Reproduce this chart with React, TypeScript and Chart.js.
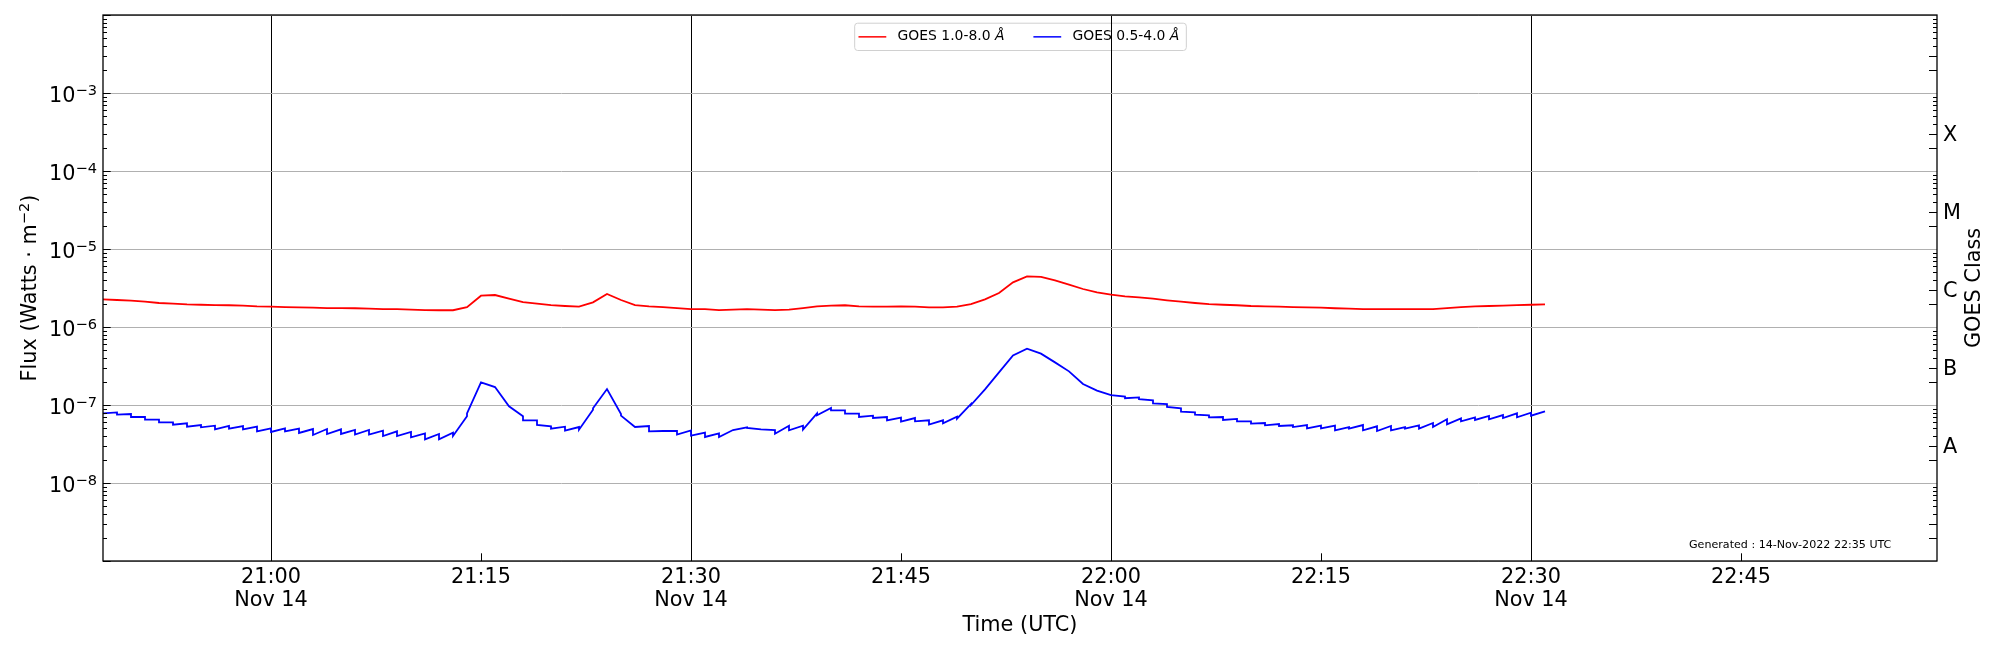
import React, { useEffect, useRef } from "react";
import { Chart, registerables } from "chart.js";

Chart.register(...registerables);

// one sample per minute, minutes counted from 21:00 UTC (Nov 14 2022)
const firstMinute = -12;

// GOES 1.0-8.0 Å flux (W m^-2), 20:48 .. 22:31
const goesLong = [
  2.26e-6, 2.22e-6, 2.18e-6, 2.11e-6, 2.03e-6, 1.99e-6, 1.95e-6, 1.93e-6, 1.91e-6, 1.9e-6,
  1.88e-6, 1.84e-6, 1.82e-6, 1.8e-6, 1.79e-6, 1.77e-6, 1.75e-6, 1.75e-6, 1.74e-6, 1.72e-6,
  1.7e-6, 1.69e-6, 1.67e-6, 1.65e-6, 1.64e-6, 1.64e-6, 1.8e-6, 2.52e-6, 2.57e-6, 2.31e-6,
  2.09e-6, 1.99e-6, 1.91e-6, 1.86e-6, 1.82e-6, 2.07e-6, 2.65e-6, 2.22e-6, 1.91e-6, 1.84e-6,
  1.8e-6, 1.75e-6, 1.7e-6, 1.69e-6, 1.65e-6, 1.67e-6, 1.69e-6, 1.67e-6, 1.65e-6, 1.67e-6,
  1.75e-6, 1.84e-6, 1.88e-6, 1.9e-6, 1.84e-6, 1.82e-6, 1.82e-6, 1.84e-6, 1.82e-6, 1.79e-6,
  1.79e-6, 1.82e-6, 1.97e-6, 2.26e-6, 2.73e-6, 3.74e-6, 4.46e-6, 4.38e-6, 3.97e-6, 3.49e-6,
  3.07e-6, 2.78e-6, 2.6e-6, 2.47e-6, 2.4e-6, 2.31e-6, 2.2e-6, 2.11e-6, 2.03e-6, 1.97e-6,
  1.93e-6, 1.9e-6, 1.86e-6, 1.84e-6, 1.82e-6, 1.8e-6, 1.79e-6, 1.77e-6, 1.74e-6, 1.72e-6,
  1.7e-6, 1.69e-6, 1.69e-6, 1.69e-6, 1.7e-6, 1.7e-6, 1.75e-6, 1.8e-6, 1.84e-6, 1.86e-6,
  1.88e-6, 1.91e-6, 1.93e-6, 1.95e-6,
];

// GOES 0.5-4.0 Å flux (W m^-2): value at the start and at the end of each minute
const goesShortStart = [
  7.82e-8, 7.52e-8, 7.02e-8, 6.49e-8, 6.0e-8, 5.6e-8, 5.27e-8, 5.17e-8, 4.88e-8, 4.97e-8,
  4.88e-8, 4.6e-8, 4.51e-8, 4.6e-8, 4.38e-8, 4.13e-8, 4.25e-8, 4.25e-8, 4.17e-8, 4.17e-8,
  4.0e-8, 4.0e-8, 3.85e-8, 3.63e-8, 3.63e-8, 4.0e-8, 7.82e-8, 1.95e-7, 1.7e-7, 9.61e-8,
  6.36e-8, 5.54e-8, 4.97e-8, 4.69e-8, 4.83e-8, 9.06e-8, 1.6e-7, 7.3e-8, 5.22e-8, 4.6e-8,
  4.64e-8, 4.17e-8, 4.04e-8, 3.89e-8, 3.89e-8, 4.78e-8, 5.07e-8, 4.88e-8, 4.29e-8, 4.73e-8,
  4.83e-8, 7.37e-8, 8.54e-8, 7.74e-8, 7.02e-8, 6.81e-8, 6.36e-8, 6.11e-8, 6.17e-8, 5.6e-8,
  5.82e-8, 6.68e-8, 1.0e-7, 1.59e-7, 2.62e-7, 4.33e-7, 5.28e-7, 4.55e-7, 3.52e-7, 2.7e-7,
  1.86e-7, 1.53e-7, 1.34e-7, 1.22e-7, 1.19e-7, 1.05e-7, 9.43e-8, 8.21e-8, 7.52e-8, 6.95e-8,
  6.43e-8, 6.17e-8, 5.77e-8, 5.49e-8, 5.38e-8, 5.22e-8, 5.02e-8, 5.02e-8, 4.73e-8, 4.97e-8,
  4.73e-8, 4.64e-8, 4.73e-8, 4.97e-8, 4.97e-8, 5.22e-8, 5.66e-8, 6.17e-8, 6.43e-8, 6.55e-8,
  6.81e-8, 6.95e-8, 7.3e-8,
];
const goesShortEnd = [
  8.05e-8, 7.67e-8, 7.02e-8, 6.49e-8, 6.0e-8, 5.82e-8, 5.54e-8, 5.43e-8, 5.38e-8, 5.38e-8,
  5.27e-8, 5.02e-8, 5.02e-8, 4.97e-8, 4.92e-8, 4.92e-8, 4.88e-8, 4.78e-8, 4.78e-8, 4.69e-8,
  4.6e-8, 4.51e-8, 4.33e-8, 4.25e-8, 4.42e-8, 7.16e-8, 1.95e-7, 1.7e-7, 9.61e-8, 7.16e-8,
  6.36e-8, 5.33e-8, 5.27e-8, 5.22e-8, 8.71e-8, 1.6e-7, 7.67e-8, 5.22e-8, 5.38e-8, 4.64e-8,
  4.64e-8, 4.73e-8, 4.42e-8, 4.33e-8, 4.78e-8, 5.17e-8, 4.88e-8, 4.78e-8, 5.43e-8, 5.43e-8,
  7.82e-8, 9.15e-8, 8.54e-8, 7.74e-8, 7.3e-8, 7.02e-8, 6.88e-8, 6.81e-8, 6.36e-8, 6.36e-8,
  7.09e-8, 1.03e-7, 1.59e-7, 2.62e-7, 4.33e-7, 5.28e-7, 4.55e-7, 3.52e-7, 2.7e-7, 1.86e-7,
  1.53e-7, 1.34e-7, 1.28e-7, 1.25e-7, 1.15e-7, 1.03e-7, 9.06e-8, 8.05e-8, 7.37e-8, 7.02e-8,
  6.62e-8, 6.17e-8, 5.88e-8, 5.71e-8, 5.49e-8, 5.54e-8, 5.43e-8, 5.43e-8, 5.22e-8, 5.54e-8,
  5.33e-8, 5.38e-8, 5.22e-8, 5.49e-8, 5.88e-8, 6.55e-8, 6.75e-8, 6.95e-8, 7.23e-8, 7.44e-8,
  7.82e-8, 7.97e-8, 8.3e-8,
];

const xTicks = [0, 15, 30, 45, 60, 75, 90, 105];
const xTickTimes = ["21:00", "21:15", "21:30", "21:45", "22:00", "22:15", "22:30", "22:45"];
const xTickDates = ["Nov 14", "", "Nov 14", "", "Nov 14", "", "Nov 14", ""];
const yDecades = [1e-9, 1e-8, 1e-7, 1e-6, 1e-5, 1e-4, 1e-3, 1e-2];
const yLabelExponents = [-8, -7, -6, -5, -4, -3];
const goesClasses = ["A", "B", "C", "M", "X"];
const goesClassLevels = [3e-8, 3e-7, 3e-6, 3e-5, 3e-4];
const seriesNames = ["GOES 1.0-8.0 ", "GOES 0.5-4.0 "];
const seriesColors = ["#ff0000", "#0000ff"];

const FONT = '"DejaVu Sans", sans-serif';
const BIG = 20.8;
const SUP = 14.6;

const longPoints = goesLong.map((v, i) => ({ x: firstMinute + i, y: v }));
const shortPoints = goesShortStart.flatMap((v, i) => [
  { x: firstMinute + i, y: v },
  { x: firstMinute + i + 1, y: goesShortEnd[i] },
]);

const legendPlugin = {
  id: "mplLegend",
  beforeDraw(chart: Chart) {
    const { ctx, chartArea } = chart;
    ctx.save();
    const fs = 13.9;
    const widths = seriesNames.map((s) => {
      ctx.font = `${fs}px ${FONT}`;
      const a = ctx.measureText(s).width;
      ctx.font = `italic ${fs}px ${FONT}`;
      return a + ctx.measureText("Å").width;
    });
    const total = 4.3 + 27.8 + 11.3 + widths[0] + 29 + 27.8 + 11.3 + widths[1] + 6.5;
    const x0 = (chartArea.left + chartArea.right) / 2 - total / 2;
    const y0 = chartArea.top + 7.7;
    const h = 27.3;
    ctx.beginPath();
    ctx.roundRect(x0 + 0.5, y0 + 0.5, total, h, 3);
    ctx.fillStyle = "rgba(255,255,255,0.8)";
    ctx.fill();
    ctx.strokeStyle = "#d0d0d0";
    ctx.lineWidth = 1;
    ctx.stroke();
    const cy = y0 + h / 2 + 0.5;
    let x = x0 + 4.3;
    seriesNames.forEach((s, i) => {
      ctx.strokeStyle = seriesColors[i];
      ctx.lineWidth = 1.5;
      ctx.beginPath();
      ctx.moveTo(x, cy);
      ctx.lineTo(x + 27.8, cy);
      ctx.stroke();
      x += 27.8 + 11.3;
      ctx.fillStyle = "#000";
      ctx.textBaseline = "middle";
      ctx.textAlign = "left";
      ctx.font = `${fs}px ${FONT}`;
      ctx.fillText(s, x, cy);
      const w = ctx.measureText(s).width;
      ctx.font = `italic ${fs}px ${FONT}`;
      ctx.fillText("Å", x + w, cy);
      x += widths[i] + 29;
    });
    ctx.restore();
  },
};

const decorPlugin = {
  id: "mplDecor",
  afterDraw(chart: Chart) {
    const { ctx, chartArea } = chart;
    const xs = chart.scales.x;
    const ys = chart.scales.y;
    const { left, right, top, bottom } = chartArea;
    ctx.save();
    ctx.strokeStyle = "#000";
    ctx.lineWidth = 1;

    // inward ticks
    ctx.beginPath();
    xTicks.forEach((v) => {
      const px = Math.round(xs.getPixelForValue(v)) + 0.5;
      ctx.moveTo(px, bottom);
      ctx.lineTo(px, bottom - 7.7);
    });
    yDecades.forEach((d, di) => {
      const py = Math.round(ys.getPixelForValue(d)) + 0.5;
      ctx.moveTo(left, py);
      ctx.lineTo(left + 7.7, py);
      if (di === yDecades.length - 1) return;
      for (let k = 2; k <= 9; k++) {
        const my = Math.round(ys.getPixelForValue(k * d)) + 0.5;
        ctx.moveTo(left, my);
        ctx.lineTo(left + 4, my);
        ctx.moveTo(right, my);
        ctx.lineTo(right - (k <= 3 ? 8 : 4), my);
      }
    });
    ctx.stroke();

    // frame
    ctx.lineWidth = 1.3;
    ctx.strokeRect(left, top, right - left, bottom - top);

    ctx.fillStyle = "#000";
    // y tick labels 10^n
    yLabelExponents.forEach((e) => {
      const py = ys.getPixelForValue(Math.pow(10, e));
      const sup = "\u2212" + Math.abs(e);
      ctx.font = `${BIG}px ${FONT}`;
      const wb = ctx.measureText("10").width;
      ctx.font = `${SUP}px ${FONT}`;
      const ws = ctx.measureText(sup).width;
      const x0 = left - 6 - wb - ws;
      ctx.textAlign = "left";
      ctx.textBaseline = "alphabetic";
      ctx.font = `${BIG}px ${FONT}`;
      ctx.fillText("10", x0, py + 8.6);
      ctx.font = `${SUP}px ${FONT}`;
      ctx.fillText(sup, x0 + wb, py + 1.6);
    });

    // GOES class letters, cap height centred on the level
    ctx.font = `${BIG}px ${FONT}`;
    ctx.textBaseline = "alphabetic";
    goesClasses.forEach((c, i) => {
      ctx.fillText(c, right + 6, ys.getPixelForValue(goesClassLevels[i]) + 7.6);
    });

    // x tick labels
    ctx.textAlign = "center";
    xTicks.forEach((v, i) => {
      const px = xs.getPixelForValue(v);
      ctx.fillText(xTickTimes[i], px, bottom + 21.5);
      if (xTickDates[i]) ctx.fillText(xTickDates[i], px, bottom + 44.5);
    });
    ctx.fillText("Time (UTC)", (left + right) / 2, bottom + 69.5);

    // y title with superscript
    const midY = (top + bottom) / 2;
    ctx.save();
    ctx.translate(36, midY);
    ctx.rotate(-Math.PI / 2);
    ctx.textAlign = "left";
    ctx.font = `${BIG}px ${FONT}`;
    const p1 = "Flux (Watts \u00b7 m";
    const w1 = ctx.measureText(p1).width;
    const w3 = ctx.measureText(")").width;
    ctx.font = `${SUP}px ${FONT}`;
    const w2 = ctx.measureText("\u22122").width;
    const sx = -(w1 + w2 + w3) / 2;
    ctx.font = `${BIG}px ${FONT}`;
    ctx.fillText(p1, sx, 0);
    ctx.fillText(")", sx + w1 + w2, 0);
    ctx.font = `${SUP}px ${FONT}`;
    ctx.fillText("\u22122", sx + w1, -7);
    ctx.restore();

    // right title
    ctx.save();
    ctx.translate(right + 42.5, midY);
    ctx.rotate(-Math.PI / 2);
    ctx.textAlign = "center";
    ctx.font = `${BIG}px ${FONT}`;
    ctx.fillText("GOES Class", 0, 0);
    ctx.restore();

    // generated stamp
    ctx.textAlign = "left";
    ctx.font = `11.1px ${FONT}`;
    ctx.fillText("Generated : 14-Nov-2022 22:35 UTC", right - 248, bottom - 13);
    ctx.restore();
  },
};

const GoesChart: React.FC = () => {
  const canvasRef = useRef<HTMLCanvasElement>(null);

  useEffect(() => {
    if (!canvasRef.current) return;
    const chart = new Chart(canvasRef.current, {
      type: "line",
      data: {
        datasets: [
          {
            label: seriesNames[0] + "Å",
            data: longPoints,
            borderColor: seriesColors[0],
            borderWidth: 1.8,
            pointRadius: 0,
            tension: 0,
            fill: false,
          },
          {
            label: seriesNames[1] + "Å",
            data: shortPoints,
            borderColor: seriesColors[1],
            borderWidth: 1.8,
            pointRadius: 0,
            tension: 0,
            fill: false,
          },
        ],
      },
      options: {
        animation: false,
        responsive: true,
        maintainAspectRatio: false,
        parsing: false,
        layout: { padding: { top: 15, right: 63, left: 0, bottom: 0 } },
        plugins: { legend: { display: false }, tooltip: { enabled: false } },
        scales: {
          x: {
            type: "linear",
            min: -12,
            max: 119,
            afterBuildTicks: (scale: any) => {
              scale.ticks = xTicks.map((v) => ({ value: v }));
            },
            afterFit: (scale: any) => {
              scale.height = 89;
            },
            ticks: { display: false },
            border: { display: false },
            grid: {
              drawTicks: false,
              lineWidth: 1,
              color: (c: any) =>
                c.tick && c.tick.value % 30 === 0 ? "#000000" : "rgba(0,0,0,0)",
            },
          },
          y: {
            type: "logarithmic",
            min: 1e-9,
            max: 1e-2,
            afterBuildTicks: (scale: any) => {
              scale.ticks = yDecades.map((v) => ({ value: v }));
            },
            afterFit: (scale: any) => {
              scale.width = 103;
            },
            ticks: { display: false },
            border: { display: false },
            grid: { drawTicks: false, color: "#b0b0b0", lineWidth: 1 },
          },
        },
      },
      plugins: [legendPlugin, decorPlugin],
    });
    return () => chart.destroy();
  }, []);

  return (
    <div style={{ position: "fixed", left: 0, top: 0, width: 2000, height: 650, background: "#fff" }}>
      <canvas ref={canvasRef} />
    </div>
  );
};

export default function App() {
  return <GoesChart />;
}
